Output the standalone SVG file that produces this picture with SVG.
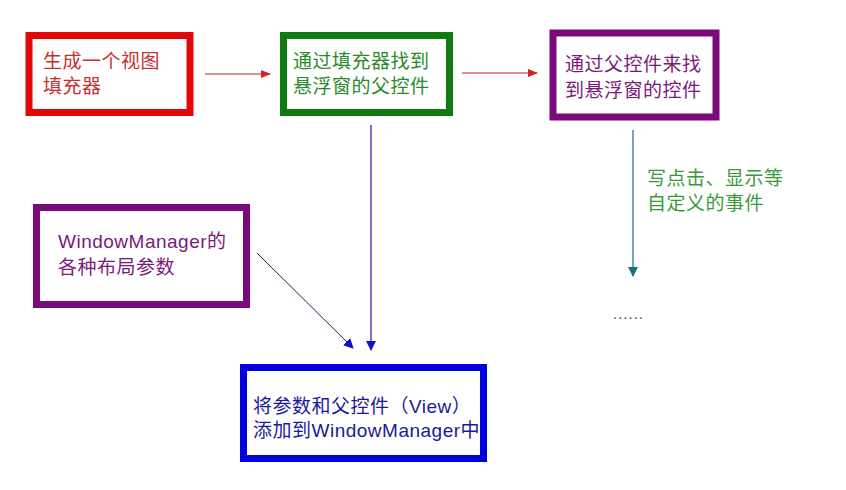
<svg xmlns="http://www.w3.org/2000/svg" width="846" height="490" viewBox="0 0 846 490">
<style>
text{font-family:"Liberation Sans","Noto Sans CJK SC",sans-serif;font-size:19px;letter-spacing:0.5px}
.box{fill:#ffffff;stroke-width:7}
</style>
<defs>
<marker id="ar" markerWidth="10" markerHeight="8" refX="9" refY="4" orient="auto" markerUnits="userSpaceOnUse"><path d="M0,0 L10,4 L0,8 z" fill="#d42020"/></marker>
<marker id="ab" markerWidth="10" markerHeight="10" refX="9" refY="5" orient="auto" markerUnits="userSpaceOnUse"><path d="M0,0 L10,5 L0,10 z" fill="#1010d0"/></marker>
<marker id="at" markerWidth="10" markerHeight="10" refX="9" refY="5" orient="auto" markerUnits="userSpaceOnUse"><path d="M0,0 L10,5 L0,10 z" fill="#157080"/></marker>
</defs>
<rect width="846" height="490" fill="#ffffff"/>
<g id="connectors" fill="none">
<line x1="205" y1="74" x2="270" y2="74" stroke="#c02020" stroke-width="1.2" marker-end="url(#ar)"/>
<line x1="462" y1="73" x2="537" y2="73" stroke="#c02020" stroke-width="1.2" marker-end="url(#ar)"/>
<line x1="371" y1="125" x2="371" y2="350" stroke="#1a1aa0" stroke-width="1.2" marker-end="url(#ab)"/>
<line x1="257" y1="253" x2="353" y2="348" stroke="#1a1a70" stroke-width="1" marker-end="url(#ab)"/>
<line x1="633" y1="130" x2="633" y2="276" stroke="#157080" stroke-width="1.2" marker-end="url(#at)"/>
</g>
<g id="n1">
<rect class="box" x="29" y="35.5" width="161" height="77" stroke="#e00808"/>
<text x="43" y="68" fill="#c83030">生成一个视图</text>
<text x="43" y="93" fill="#c83030">填充器</text>
</g>
<g id="n2">
<rect class="box" x="283.5" y="35.5" width="166" height="77" stroke="#107a10"/>
<text x="293" y="68" fill="#2a8a2a">通过填充器找到</text>
<text x="293" y="93" fill="#2a8a2a">悬浮窗的父控件</text>
</g>
<g id="n3">
<rect class="box" x="553" y="33" width="163" height="84" stroke="#7a0a7a" stroke-width="6"/>
<text x="565" y="71" fill="#7a1a7a">通过父控件来找</text>
<text x="565" y="97" fill="#7a1a7a">到悬浮窗的控件</text>
</g>
<g id="n4">
<rect class="box" x="36.5" y="207.5" width="210" height="97" stroke="#7a0a7a"/>
<text x="58" y="248" fill="#7a1a7a">WindowManager的</text>
<text x="58" y="274" fill="#7a1a7a">各种布局参数</text>
</g>
<g id="n5">
<text x="647" y="185" fill="#3a9a3a" font-size="18">写点击、显示等</text>
<text x="647" y="210" fill="#3a9a3a" font-size="18">自定义的事件</text>
</g>
<g id="n6">
<text x="613" y="319" fill="#405040" style="font-size:15px;letter-spacing:1px">......</text>
</g>
<g id="n7">
<rect class="box" x="243.5" y="367.5" width="240" height="91" stroke="#0000e0"/>
<text x="253" y="413" fill="#1a1a9a">将参数和父控件（View）</text>
<text x="253" y="437" fill="#1a1a9a">添加到WindowManager中</text>
</g>
</svg>
